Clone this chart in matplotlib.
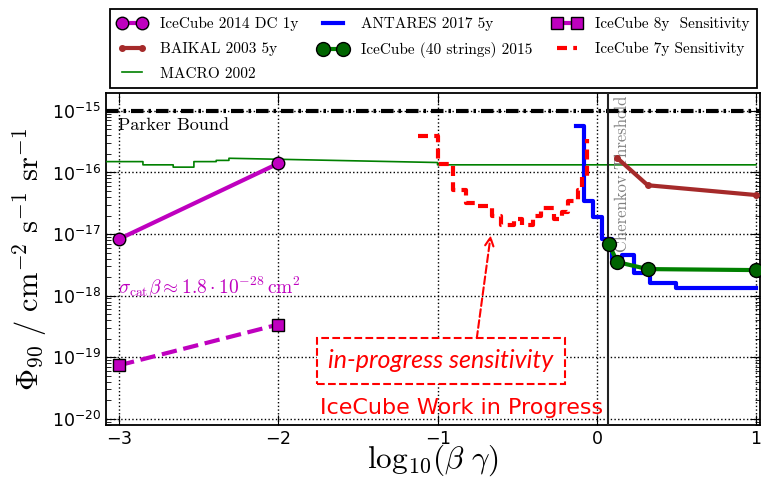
import matplotlib
matplotlib.use("Agg")
import matplotlib.pyplot as plt
from matplotlib.patches import FancyArrowPatch
import numpy as np

plt.rcParams['mathtext.fontset'] = 'cm'
plt.rcParams['axes.formatter.use_mathtext'] = True

# ---------------- data ----------------
parker_y = 1e-15
cherenkov_x = 0.072

dc_x = [-3.0, -2.0]
dc_y = [8.3e-18, 1.4e-16]

ic8_x = [-3.0, -2.0]
ic8_y = [7.4e-20, 3.4e-19]

baikal_x = [0.13, 0.32, 1.0]
baikal_y = [1.7e-16, 6.2e-17, 4.3e-17]

ic40_x = [0.075, 0.13, 0.32, 1.0]
ic40_y = [6.9e-18, 3.5e-18, 2.7e-18, 2.6e-18]

antares_x = [-0.13, -0.08, -0.025, 0.03, 0.098, 0.16, 0.235, 0.335, 0.5, 1.0]
antares_y = [5.6e-16, 3.4e-17, 1.9e-17, 8.3e-18, 3.9e-18, 4.6e-18, 2.3e-18, 1.6e-18, 1.35e-18, 1.35e-18]

macro_x = [-3.1, -2.85, -2.85, -2.66, -2.66, -2.53, -2.53, -2.39, -2.39, -2.31, -2.31, -1.0, -1.0, 1.0]
macro_y = [1.5e-16, 1.5e-16, 1.33e-16, 1.33e-16, 1.22e-16, 1.22e-16, 1.5e-16, 1.5e-16,
           1.57e-16, 1.57e-16, 1.7e-16, 1.45e-16, 1.33e-16, 1.33e-16]

ic7_x = [-1.12, -1.0, -0.9, -0.82, -0.75, -0.66, -0.6, -0.52, -0.47, -0.40, -0.35,
         -0.27, -0.22, -0.18, -0.12, -0.09, -0.06]
ic7_logy = [-15.40, -15.87, -16.28, -16.49, -16.55, -16.70, -16.85, -16.76, -16.86,
            -16.70, -16.57, -16.75, -16.65, -16.46, -16.29, -16.08, -15.45]
ic7_y = [10 ** v for v in ic7_logy]

x_ticks = [-3, -2, -1, 0, 1]

# ---------------- figure ----------------
fig = plt.figure(figsize=(7.62, 4.83), dpi=100)
ax = fig.add_axes([106 / 762, 1 - 425 / 483, (760 - 106) / 762, (425 - 93) / 483])

ax.set_yscale('log')
ax.set_xlim(-3.082, 1.025)
ax.set_ylim(10 ** -20.1, 10 ** -14.71)

h_dc, = ax.plot(dc_x, dc_y, '-o', color='m', lw=3, ms=9, mec='black', mew=1,
                label='IceCube 2014 DC 1y', zorder=5)
h_baikal, = ax.plot(baikal_x, baikal_y, '-o', color='brown', lw=3, ms=4,
                    label='BAIKAL 2003 5y', zorder=5)
h_macro, = ax.plot(macro_x, macro_y, '-', color='green', lw=1.2, label='MACRO 2002', zorder=3)
h_ant, = ax.step(antares_x, antares_y, where='post', color='blue', lw=3,
                 label='ANTARES 2017 5y', zorder=4)
h_ic40, = ax.plot(ic40_x, ic40_y, '-o', color='green', lw=3, ms=10,
                  mfc='darkgreen', mec='black', mew=1,
                  label='IceCube (40 strings) 2015', zorder=6)
h_ic8, = ax.plot(ic8_x, ic8_y, '--s', color='m', lw=3, ms=8, mec='black', mew=1,
                 label='IceCube 8y  Sensitivity', zorder=5)
h_ic7, = ax.step(ic7_x, ic7_y, where='post', color='red', lw=3, ls=(0, (2.4, 1.5)),
                 label='IceCube 7y Sensitivity', zorder=4)

ax.axhline(parker_y, color='black', lw=3, ls=(0, (3, 1.2, 0.6, 1.2)), zorder=4)
ax.axvline(cherenkov_x, color='#222222', lw=1.5, zorder=4)

ax.grid(True, which='major', color='black', ls=':', lw=1)
ax.set_xticks(x_ticks)
ax.tick_params(which='both', direction='in', top=True, right=True, labelsize=12.5)
ax.tick_params(which='major', length=7)
ax.tick_params(which='minor', length=3.5)
for s in ax.spines.values():
    s.set_linewidth(1.3)

ax.set_xlabel(r'$\mathrm{log}_{10}(\beta\ \gamma)$', fontsize=22.5, labelpad=-4)
ax.set_ylabel(r'$\Phi_{90}\ /\ \mathrm{cm}^{-2}\ \mathrm{s}^{-1}\ \mathrm{sr}^{-1}$',
              fontsize=22, labelpad=2)

ax.text(-3.006, 10 ** -15.24, 'Parker Bound', family='cmr10', fontsize=13,
        ha='left', va='center', zorder=7)
ax.text(0.163, 10 ** -14.75, 'Cherenkov Threshold', family='cmr10', fontsize=12,
        color='gray', rotation=90, ha='center', va='top')
ax.text(-3.006, 10 ** -17.85, r'$\sigma_{\rm cat}\beta\approx1.8\cdot10^{-28}\,\rm cm^{2}$',
        color='m', fontsize=14, ha='left', va='center')

arrow = FancyArrowPatch((-0.754, 10 ** -18.70), (-0.666, 10 ** -17.02),
                        arrowstyle='->', mutation_scale=15, color='red', lw=1.5,
                        ls='--', shrinkA=0, shrinkB=0, zorder=6)
ax.add_patch(arrow)
ax.text(-0.98, 10 ** -19.06, 'in-progress sensitivity', family='Lato', style='italic',
        fontsize=18, color='red', ha='center', va='center', zorder=7,
        bbox=dict(boxstyle='square,pad=0.45', ec='red', fc='white', ls='--', lw=1.5))
ax.text(-1.74, 10 ** -19.98, 'IceCube Work in Progress', color='red', fontsize=16,
        ha='left', va='bottom')

handles = [h_dc, h_baikal, h_macro, h_ant, h_ic40, h_ic8, h_ic7]
leg = fig.legend(handles=handles, loc='upper left', ncol=3, mode='expand',
                 bbox_to_anchor=(110 / 762, 1 - 87 / 483, (757 - 110) / 762, 78 / 483),
                 prop={'family': 'cmr10', 'size': 11}, numpoints=2, fancybox=False,
                 edgecolor='black', framealpha=1, borderaxespad=0, handlelength=1.9,
                 labelspacing=0.72, borderpad=0.5, handletextpad=0.9)
leg.get_frame().set_linewidth(1.3)

fig.savefig('out.png', dpi=100)
